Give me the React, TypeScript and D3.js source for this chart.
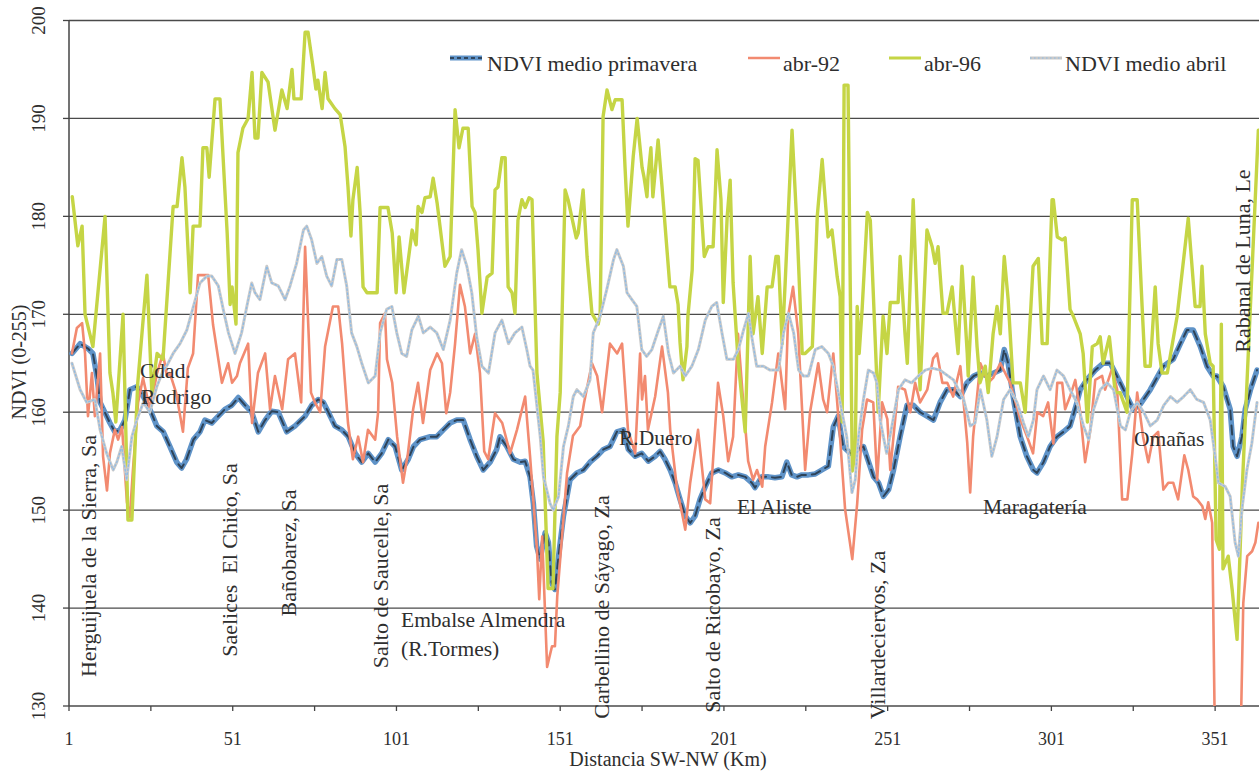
import React from 'react';
import * as d3 from 'd3';

const W = 1259;
const H = 772;

// y axis ticks (NDVI 0-255)
const yTicks = [130, 140, 150, 160, 170, 180, 190, 200];
// x axis (km)
const xTickKm = [1, 26, 51, 76, 101, 126, 151, 176, 201, 226, 251, 276, 301, 326, 351];
const xLabelKm = [1, 51, 101, 151, 201, 251, 301, 351];

const seriesNames = ['NDVI medio primavera', 'abr-92', 'abr-96', 'NDVI medio abril'];

// NDVI medio primavera [km, value]
const primavera: [number, number][] = [
  [1.9,166],[4.4,167],[6.8,166.5],[8.3,166],[9.6,163.5],[10.5,161],[13.5,158.9],[15,158],[16.6,158.2],[18.1,159.2],
  [19.6,162.3],[21.7,162.6],[23.7,161.6],[25.7,160.3],[27.8,158.6],[29.8,158],[31.8,156.5],[33.9,154.9],[35.4,154.3],[36.9,155.2],
  [39,157.2],[41,158],[42.5,159.2],[44.6,158.9],[46.6,159.6],[48.6,160.3],[50.7,160.7],[52.7,161.5],[54.8,160.7],[56.8,160],
  [58.8,158],[60.9,159.2],[62.9,160.1],[64.9,160],[67.5,158],[70,158.6],[73.1,159.6],[75.1,160.7],[77.1,161.3],[78.7,161],
  [80.2,160],[82.2,158.6],[84.3,158.2],[86.3,157.5],[88.4,155.8],[90.4,154.9],[92.4,155.8],[94.5,154.9],[96.5,155.8],[98.5,157.2],
  [100.6,156.5],[102.6,154.1],[104.6,155.2],[106.2,156.5],[108.2,157.2],[111.3,157.5],[113.3,157.5],[115.3,158.2],[117.4,158.9],[119.4,159.2],
  [121.4,159.2],[123.5,157.2],[125.5,155.5],[127.5,154.1],[129.6,154.9],[131.6,156.2],[132.6,157.5],[134.7,156.5],[136.7,155.2],[138.8,154.9],
  [140.3,155],[141.8,153.4],[142.8,150.7],[143.8,146.3],[144.9,145],[146.4,147.7],[147.4,146.7],[148.4,142.6],[149.4,141.9],[150.5,145.3],
  [152,149.4],[154,153.1],[156.1,153.8],[158.1,154.1],[160.1,154.9],[162.2,155.5],[164.2,156.2],[166.2,156.5],[168.3,158],[170.3,158.2],
  [171.8,156.2],[173.9,155.5],[175.9,155.8],[177.9,155],[180,155.5],[181.5,156],[183,155.2],[184.6,154.1],[186.1,152.8],[187.6,151.1],
  [189.2,149.4],[190.7,148.7],[192.2,149.4],[193.7,151.1],[195.3,152.4],[197.3,153.8],[199.3,154.1],[201.4,153.8],[203.4,153.4],[205.4,153.6],
  [207.5,153.4],[209.5,152.8],[210.5,152.3],[212.6,153.4],[214.6,153.4],[216.6,153.3],[218.7,153.4],[220.2,154.9],[221.7,153.6],[223.3,153.4],
  [224.8,153.6],[226.8,153.6],[228.9,153.7],[230.9,154.1],[232.9,154.5],[234.4,158.5],[235.9,159.6],[237.4,156.5],[239.6,155.8],[241.6,156.2],
  [243.6,156.5],[246.7,153.4],[248.2,152.8],[249.7,151.4],[251.3,152.1],[252.8,154.1],[254.8,157.5],[256.9,160.7],[258.9,160.7],[260.9,160],
  [263,159.6],[265,159.2],[267,161],[269.1,162.3],[271.1,162.3],[273.2,161.6],[275.2,163],[277.3,163.7],[279.3,164],[281.3,163.7],
  [283.4,164],[285.4,164.3],[286.6,166.4],[287.8,165],[289.6,161],[291.5,157.5],[293.5,155.5],[295.5,154.1],[296.6,153.8],[298.6,154.9],
  [300.6,156.5],[302.7,157.5],[304.7,158],[306.7,158.6],[308.8,161],[309.8,162.3],[311.8,163.3],[314.4,164.3],[316.8,165],[319,165],
  [321,163.7],[323.5,162],[326,160.3],[328.1,160.8],[331.2,162.3],[335.2,164.7],[338.2,165.4],[340.4,167],[342.4,168.4],[344.3,168.4],
  [346.5,166.7],[348.5,164.7],[350.4,163.7],[351.5,163.7],[353.5,162.6],[355.6,160.3],[356.5,156.5],[357.7,155.5],[359.2,157.5],[360.2,160.3],
  [361.8,162.3],[363.8,164.3]
];

// abr-92 [km, value]
const abr92: [number, number][] = [
  [1.9,166],[3.4,168.6],[5,169.1],[5.9,166],[6.8,159.6],[8,164],[8.9,159.6],[10.5,166],[11.4,155.5],[12.6,152],
  [13.5,155.8],[15,158.2],[16,157.2],[17.2,158.5],[18.7,150.8],[19.6,149.3],[20.5,154],[22.1,161],[23.6,163.5],[25.7,160.3],
  [27.9,164],[29.7,166],[30.9,163.7],[31.8,164],[33.7,162],[35.8,158],[37.3,164.5],[38.9,166],[40.4,174],[43.5,174],
  [45,168.9],[47.7,163],[49.6,165],[50.8,163],[52.3,163.7],[53.2,165],[55.7,167],[56.9,158.9],[58.7,164],[60.9,166],
  [62.4,160.3],[63.9,163.7],[66.1,160.3],[67.9,165.4],[70,166],[71.9,161],[73.1,176.9],[74.9,162],[76.1,161],[77.7,160],
  [79.2,166.7],[81.6,170.8],[83.2,170.8],[84.4,167],[86.2,158.9],[87.7,155.2],[89.3,157.5],[90.8,154.9],[92.3,158.2],[94.5,157.2],
  [95.4,160],[96,169.1],[97.5,170.1],[98.1,165.4],[99.7,163],[101.2,157.5],[103,152.8],[104.5,155.8],[106.1,160.3],[107.6,163],
  [109.1,158.9],[111.3,164.3],[113.4,166],[114.9,165],[116.2,159.9],[117.4,162],[118.9,167],[120.4,173],[121.9,170.8],[123.5,166],
  [125,168],[126.5,164],[127.8,156],[129,155.2],[131.1,159.9],[133.3,158.9],[135.7,155.8],[137.8,158.2],[140.3,161.6],[141.8,155.5],
  [143.9,146],[144.6,140.9],[145.5,147.3],[147,134],[148.5,136.1],[149.4,136.1],[150.1,141.2],[153.1,153.8],[154.9,157.6],[157.1,158.6],
  [158.3,161],[160.7,165],[162.3,163.7],[163.8,160],[166.2,167],[168.4,166],[169.9,167],[171.7,158.2],[173.9,155.8],[175.4,166],
  [176,161.3],[176.9,163.7],[177.8,158.2],[180,161.6],[182.1,166.7],[183.9,162],[184.6,158.2],[186.7,152.1],[188.2,149.7],[189.2,148],
  [190.7,152.8],[193.1,158.2],[194.6,153.4],[195.3,151.1],[196.8,150.7],[197.7,155.2],[199.2,163],[200.8,159.6],[202.3,155],[203.8,157.5],
  [205.3,168],[206.9,161],[208.4,155],[209.9,153.1],[211.1,154.1],[212.7,152.4],[213.6,156.5],[215.7,161],[217.6,166],[219.7,160.3],
  [220.6,169.8],[222.1,172.8],[223.7,168],[225.8,154.1],[227.3,160],[229.8,165],[231.3,161.3],[232.5,160],[234.4,166],[236.5,157.2],
  [238,150.1],[240.2,145],[241.7,150.7],[243.2,158.2],[244.7,161.3],[246.6,161],[247.8,153.1],[249.3,161],[250.9,159.3],[251.8,154.1],
  [253.3,159.3],[254.2,162.6],[256.3,162.3],[257.9,160],[259.4,163],[260.9,161],[263.1,162.3],[264.9,165.5],[266.1,166],[267.7,163],
  [269.2,163],[271,161.6],[273.2,164.7],[275.3,156.9],[276.2,151.8],[277.1,157.5],[279.3,165],[281.7,163],[283.2,163.5],[285.4,165],
  [288.4,163],[291.5,159.3],[293.6,157.5],[295.4,155.8],[296.7,160],[298.5,159.6],[300,161],[301.6,156.8],[302.8,163],[304.3,163],
  [305.2,160.3],[306.7,161.6],[308.3,163.3],[309.8,160],[311.3,154.9],[312.9,158.2],[314.4,163.3],[316.5,163.7],[317.4,162.3],[319.6,164.5],
  [321.1,162.3],[322.6,151.1],[324.2,151.1],[325.7,155.8],[327.2,162],[329,157.5],[330.6,154.9],[332.1,157.5],[333.6,158],[335.2,152.1],
  [336.7,152.8],[338.2,152.8],[339.7,151.1],[341.6,155.6],[342.8,154.1],[344.3,151.4],[345.5,151.1],[347.1,150.4],[348,149.1],[348.9,150.8],
  [350.1,148.7],[351,125],[358.7,125],[359.6,140.5],[360.8,145.3],[362.3,145.8],[363.3,146.7],[364.2,148.7]
];

// abr-96 [km, value]
const abr96: [number, number][] = [
  [2,182],[3.7,177],[5,179],[5.9,170],[8.3,166.7],[12,180],[13.5,164],[14.4,162],[15.3,159],[17.5,170],
  [19,149],[20.2,149],[22,163],[24.8,174],[26.3,162],[27.9,166],[29.7,165.4],[32.8,181],[34,181],[35.5,186],
  [36.4,183],[38,172.2],[38.9,179],[41,179],[41.9,187],[43.1,187],[43.8,184],[45.6,192],[47.1,192],[49.3,178.3],
  [50.2,171],[50.8,172.8],[52,169],[52.6,186.5],[54.1,189],[55.7,190],[56.9,194.7],[57.8,188],[58.7,188],[59.9,194.7],
  [61.8,193.7],[63.9,188.8],[66,192.9],[67.6,191],[69.1,195],[69.7,192],[71.9,192],[73.1,198.8],[74,198.8],[75.5,195.3],
  [76.4,193],[77,193.9],[78.3,191],[79.2,194.7],[80.1,192],[82.2,191],[83.8,190.4],[85.3,187.1],[86.2,183],[87.1,178],
  [87.7,181.7],[89,185],[89.9,180.4],[90.8,172.8],[92,172.2],[95.1,172.2],[96,180.9],[98.4,180.9],[99.7,178.3],[100.9,172.2],
  [101.8,177.9],[103.3,172.2],[105.8,178.6],[107,177.1],[107.6,181],[108.8,180.4],[109.7,181.9],[111.3,182],[112.2,183.9],[113.4,181.4],
  [115.8,174.9],[117.4,175.9],[118.9,190.9],[120.1,187],[121.3,189],[122.9,189],[124.1,181],[125,180.4],[125.9,176.6],[127.1,170.1],
  [128.7,173.8],[130.2,174.2],[131.1,182.7],[132,183],[133.2,186],[134.2,186],[135.1,172.8],[136.3,172.2],[137.2,170.1],[138.1,179.6],
  [139.3,181.7],[140.3,180.9],[141.5,181.9],[142.4,181.7],[143.9,164],[145.8,157],[147.3,142],[148.8,142],[150,157.5],[151,162],
  [152.5,182.7],[153.4,181.7],[155.9,177.8],[156.5,178.3],[158,182.7],[159.2,175.9],[160.7,170.1],[162.6,169],[163.2,170],[164.1,190.2],
  [165.3,192.9],[166.8,190.9],[167.8,191.9],[169.9,191.9],[170.8,185],[171.7,179],[173.3,186.1],[174.5,190],[176,185],[176.6,184],
  [177.5,182],[177.8,184],[178.7,187],[179.3,182],[180.9,187.8],[182.1,183],[184.5,172.8],[186.1,172.8],[187,171],[187.6,167.1],
  [188.5,163.3],[189.7,166.7],[190,169.8],[191.3,174.5],[192.2,185.9],[193.1,185.7],[195,175.9],[196.2,176.9],[197.7,176.9],[198.9,186.8],
  [200.1,181.7],[200.8,171.2],[202,180],[202.9,183.7],[203.8,173.2],[205.3,165.4],[207.5,158],[209,175.9],[209.9,168],[211.4,171.8],
  [212.7,166],[214.2,172.8],[215.7,172.8],[216.9,175.9],[217.6,175.9],[218.8,167],[219.7,173.2],[221.8,188.8],[223.4,178.3],[224.9,166],
  [225.8,166],[228,166.7],[229.5,180],[231,185.8],[232.8,177.9],[234,178.6],[235.6,173.8],[236.5,171.8],[237.1,159],[237.7,193.4],
  [238.9,193.4],[240.2,154],[241.1,156],[241.7,170.8],[242.3,166],[243.2,170.5],[244.8,180.4],[245.7,179.6],[248.1,160],[249.6,169.8],
  [250.8,166],[251.8,171.2],[254.2,171.2],[254.8,175.9],[256.3,168],[257,165],[258.8,181.7],[260.9,162.3],[263,178.6],[264.6,176.9],
  [265.5,175.2],[266.4,176.9],[267.9,170.1],[269.1,170.1],[270.7,172.8],[272.2,167],[272.5,166],[273.7,174.9],[275.3,166],[275.6,163.7],
  [277.1,173.8],[278.3,166.7],[279.2,163],[280.8,164.7],[281.7,162],[283.2,168],[284.4,170.8],[285.4,168],[286.6,175.9],[287.8,171.5],
  [289.3,163],[291.5,163],[293,160],[295.4,174.9],[297,175.7],[298.2,167],[299.7,167],[301.2,181.7],[301.6,181.7],[302.8,177.9],
  [304.3,177.6],[305.2,177.8],[306.7,170.5],[307.7,169.8],[309.8,168],[310.7,166],[312,159],[313.5,166.7],[315,167],[315.9,167.7],
  [316.8,165],[318.7,167.7],[320.5,162],[322,162],[324.1,160],[325.7,181.7],[327.2,181.7],[328.7,170.8],[329.6,164.7],[331.2,164.7],
  [332.7,172.8],[333.6,167],[334.8,164],[336.4,164],[339.4,169.8],[342.8,179.8],[344.9,170.8],[346.4,170.8],[347,174.9],[348,168],
  [349.5,165],[350.4,164.7],[351.3,147],[352.3,146],[352.9,169],[353.4,144],[355,145.3],[356.2,141.9],[357.7,136.8],[359.3,152.4],
  [364.2,188.8]
];

// NDVI medio abril [km, value]
const abril: [number, number][] = [
  [1.9,165],[4.4,162.3],[6.4,161],[8.9,161.3],[10.5,158.2],[12.5,155.8],[14.5,154.1],[15.6,154.9],[17.1,156.5],[18.6,153.1],
  [20.2,157.5],[21.7,159.2],[23.7,161],[25.7,160],[27.8,162.6],[29.8,164.3],[30.8,164.7],[32.8,166],[34.9,167],[37,168.4],
  [39,170.8],[41,173.2],[43.1,173.9],[44.6,173.9],[46.6,172.9],[48.1,170.5],[49.7,168.1],[51.7,166],[53.7,168.1],[55.3,170.8],
  [56.8,173.2],[57.8,172.2],[59.3,171.5],[61.4,174.9],[62.9,173.2],[64.9,172.9],[67,171.5],[68.5,172.9],[70.5,175.2],[72.6,178.6],
  [73.6,179],[75.1,177.6],[76.7,175.2],[78.2,175.9],[79.7,173.9],[81.2,172.9],[82.8,175.6],[84.3,175.6],[85.8,172.9],[87.3,168.1],
  [88.9,166.7],[90.4,165],[92.4,163],[94.5,163.7],[96,168.1],[98,170.5],[99.6,170.8],[101.1,168.1],[102.6,166],[104.1,165.7],
  [105.7,168.4],[107.7,169.8],[109.2,168.1],[111.3,168.7],[113.3,168.1],[115.3,166.4],[117.4,169.4],[119.4,174.2],[120.9,176.6],[122.5,174.9],
  [124,172.2],[125.5,167.7],[127.1,164.7],[129.1,164],[131.1,168.1],[133.2,169.4],[135.2,167],[137.2,168.1],[139.3,168.7],[140.8,166.4],
  [141.8,164.7],[142.7,164.3],[144.9,157.5],[145.9,153.4],[147.9,150.7],[148.9,150],[150.5,151.4],[152,156.5],[153.5,158.6],[155,161.6],
  [156.1,162.3],[158.1,161.6],[160.1,163.3],[161.1,168.1],[163.2,169.8],[165.2,172.5],[167.3,175.6],[168.3,176.6],[170.3,174.9],[171.4,172.2],
  [172.9,171.5],[174.4,170.8],[175.9,166.4],[177.4,165.7],[179,166.4],[181,168.4],[182.5,169.8],[184.1,166],[185.6,164],[187.6,164.7],
  [189.2,163.7],[191.2,164.7],[193.2,166.4],[195.3,169.4],[197.3,170.8],[198.8,171.2],[200.4,168.1],[201.9,165.4],[203.9,165.4],[205.4,166.4],
  [207,168.4],[208.5,170.1],[209.5,167.7],[211,164.7],[213.1,164.7],[215.1,164.3],[217.7,164.3],[219.2,168.1],[220.7,170.1],[222.3,168.1],
  [223.8,164.3],[225.3,163.7],[226.8,163.7],[228.9,166.4],[230.9,166.7],[232.9,166],[234.4,164.7],[236.5,161],[238.5,157.5],[240.1,151.8],
  [241.1,153.1],[242.1,157.5],[243.6,161.3],[245.1,164.3],[246.7,164],[247.7,163],[248.7,159.2],[250.7,155.8],[252.3,158.6],[254.3,162.3],
  [256.3,163.3],[258.3,163],[260.4,163.7],[262.5,164.3],[264.6,164.5],[267,164.3],[271.1,163.3],[274.2,161.3],[276.2,158.6],[277.7,158.9],
  [279.3,162.3],[281.3,159.2],[282.8,155.5],[284.4,157.5],[286.4,161.3],[288.4,162.3],[290.5,161],[292.5,158.9],[294,157.5],[295.5,159.2],
  [296.6,162.3],[298.6,163.7],[300.6,162.3],[302.7,164.3],[304.7,163.7],[306.7,162.3],[308.8,161],[310.8,158.6],[312.4,157.2],[313.9,160.3],
  [315.9,162.3],[318,163],[320,162.3],[322.1,158.6],[323.6,158.2],[325.1,160],[327.2,161],[329.2,160],[331.2,158.6],[333.3,159.2],
  [335.3,160.7],[337.4,161.6],[339.4,161],[341.4,161.6],[343.4,162.3],[345.4,161.3],[347.5,161],[349.5,159.2],[351,155.5],[352,152.8],
  [354.1,152.4],[355.6,151.4],[357.1,146.7],[358.1,145.3],[359.2,150.1],[360.7,154.1],[362.2,156.8],[363.8,161]
];

const annotationsRotated = [
  { text: 'Herguijuela de la Sierra, Sa', x: 88, y: 556 },
  { text: 'Saelices  El Chico, Sa', x: 229, y: 560 },
  { text: 'Bañobarez, Sa', x: 288, y: 553 },
  { text: 'Salto de Saucelle, Sa', x: 380, y: 576 },
  { text: 'Carbellino de Sáyago, Za', x: 601, y: 607 },
  { text: 'Salto de Ricobayo, Za', x: 712, y: 615 },
  { text: 'Villardeciervos, Za', x: 877, y: 635 },
  { text: 'Rabanal de Luna, Le', x: 1242, y: 261 },
];

const annotationsFlat = [
  { text: 'Cdad.', x: 140, y: 378 },
  { text: 'Rodrigo', x: 141, y: 404 },
  { text: 'Embalse Almendra', x: 401, y: 627 },
  { text: '(R.Tormes)', x: 401, y: 656 },
  { text: 'R.Duero', x: 619, y: 445 },
  { text: 'El Aliste', x: 737, y: 514 },
  { text: 'Maragatería', x: 983, y: 514 },
  { text: 'Omañas', x: 1134, y: 446 },
];

const FONT = '"Liberation Serif", "Times New Roman", Times, serif';
const TXT = '#2e2e2e';

export default function App() {
  const left = 69, right = 1259, top = 20.5, bottom = 706;
  const x = d3.scaleLinear().domain([1, 364.4]).range([left, right]);
  const y = d3.scaleLinear().domain([130, 200]).range([bottom, top]);
  const line = d3.line<[number, number]>().x(d => x(d[0])).y(d => y(d[1]));

  const legendItems = [
    { name: seriesNames[0], lx: 450, tx: 487, kind: 'prim' },
    { name: seriesNames[1], lx: 748, tx: 783, kind: 'r92' },
    { name: seriesNames[2], lx: 889, tx: 924, kind: 'r96' },
    { name: seriesNames[3], lx: 1030, tx: 1065, kind: 'abril' },
  ];

  const sample = (kind: string, x0: number, x1: number, yy: number) => {
    if (kind === 'prim') return (
      <g>
        <line x1={x0} x2={x1} y1={yy} y2={yy} stroke="#5f93c8" strokeWidth={5} />
        <line x1={x0} x2={x1} y1={yy} y2={yy} stroke="#1e2833" strokeWidth={1.8} strokeDasharray="4 3" opacity={0.7} />
      </g>
    );
    if (kind === 'r92') return <line x1={x0} x2={x1} y1={yy} y2={yy} stroke="#f28a70" strokeWidth={2.5} />;
    if (kind === 'r96') return <line x1={x0} x2={x1} y1={yy} y2={yy} stroke="#c5d545" strokeWidth={3} />;
    return (
      <g>
        <line x1={x0} x2={x1} y1={yy} y2={yy} stroke="#c9c9c9" strokeWidth={3} />
        <line x1={x0} x2={x1} y1={yy} y2={yy} stroke="#8dbbe6" strokeWidth={1.2} strokeDasharray="1.5 2.5" />
      </g>
    );
  };

  return (
    <svg width={W} height={H} style={{ position: 'absolute', left: 0, top: 0, background: '#fff' }}
      fontFamily={FONT}>
      <rect x={0} y={0} width={W} height={H} fill="#fff" />
      <defs>
        <clipPath id="plotClip">
          <rect x={left} y={top - 2} width={right - left} height={bottom - top + 2} />
        </clipPath>
      </defs>

      {/* gridlines */}
      {yTicks.map(t => (
        <line key={'g' + t} x1={left} x2={right} y1={y(t)} y2={y(t)} stroke="#4a4a4a" strokeWidth={1.3} />
      ))}
      {/* y axis */}
      <line x1={left} x2={left} y1={top} y2={bottom} stroke="#444" strokeWidth={1.5} />
      {yTicks.map(t => (
        <line key={'yt' + t} x1={left - 6} x2={left} y1={y(t)} y2={y(t)} stroke="#444" strokeWidth={1.3} />
      ))}
      {yTicks.map(t => (
        <text key={'yl' + t} transform={`translate(38,${y(t)}) rotate(-90)`} textAnchor="middle"
          dominantBaseline="central" fontSize={19} fill={TXT}>{t}</text>
      ))}
      <text transform="translate(19,362) rotate(-90)" textAnchor="middle" dominantBaseline="central"
        fontSize={20} fill={TXT}>NDVI (0-255)</text>

      {/* x axis ticks */}
      {xTickKm.map(k => (
        <line key={'xt' + k} x1={x(k)} x2={x(k)} y1={bottom} y2={bottom + 5} stroke="#444" strokeWidth={1.3} />
      ))}
      {xLabelKm.map(k => (
        <text key={'xl' + k} x={x(k)} y={745} textAnchor="middle" fontSize={18} fill={TXT}>{k}</text>
      ))}
      <text x={668} y={766} textAnchor="middle" fontSize={20} fill={TXT}>Distancia SW-NW (Km)</text>

      {/* series */}
      <g clipPath="url(#plotClip)" fill="none" strokeLinejoin="round" strokeLinecap="round">
        <path d={line(primavera) || ''} stroke="#5f93c8" strokeWidth={5.5} />
        <path d={line(primavera) || ''} stroke="#1e2833" strokeWidth={2} strokeDasharray="9 6" opacity={0.75} />
        <path d={line(abr92) || ''} stroke="#f28a70" strokeWidth={2.6} />
        <path d={line(abr96) || ''} stroke="#c5d545" strokeWidth={3.4} />
        <path d={line(abril) || ''} stroke="#cacaca" strokeWidth={3} />
        <path d={line(abril) || ''} stroke="#8dbbe6" strokeWidth={1.3} strokeDasharray="1.5 2.5" />
      </g>

      {/* legend */}
      {legendItems.map(it => (
        <g key={it.name}>
          {sample(it.kind, it.lx, it.lx + 32, 58)}
          <text x={it.tx} y={71} fontSize={22} fill={TXT}>{it.name}</text>
        </g>
      ))}

      {/* annotations */}
      {annotationsRotated.map(a => (
        <text key={a.text} transform={`translate(${a.x},${a.y}) rotate(-90)`} textAnchor="middle"
          dominantBaseline="central" fontSize={22} fill={TXT} style={{ whiteSpace: 'pre' }}>{a.text}</text>
      ))}
      {annotationsFlat.map(a => (
        <text key={a.text} x={a.x} y={a.y} fontSize={21.5} fill={TXT}>{a.text}</text>
      ))}
    </svg>
  );
}
